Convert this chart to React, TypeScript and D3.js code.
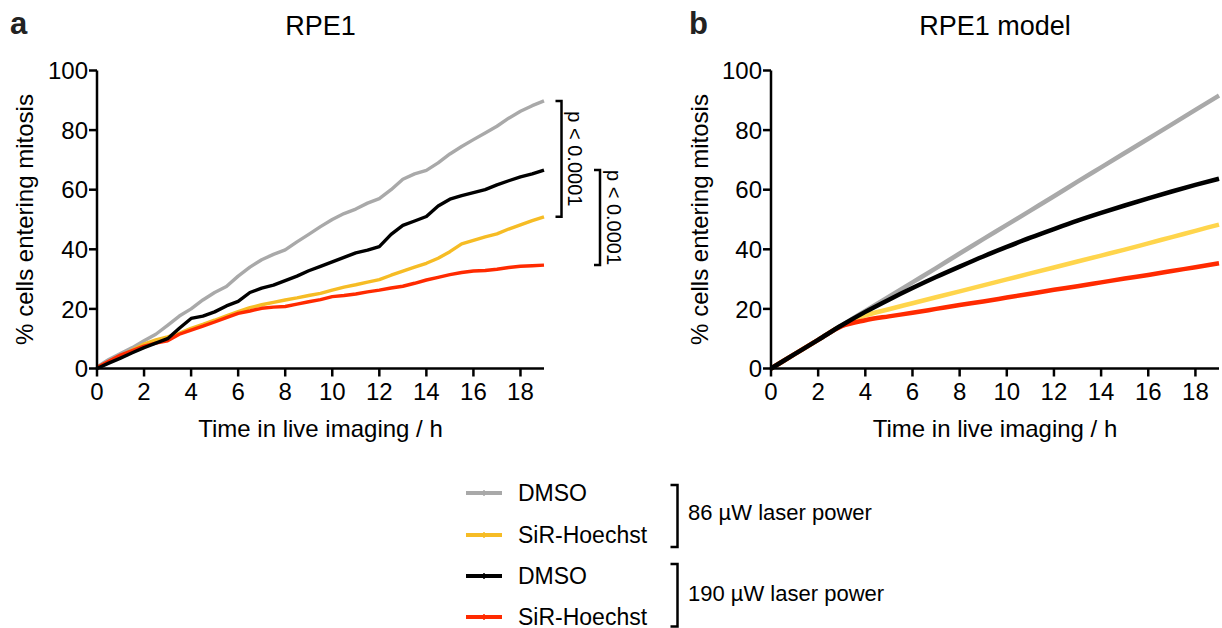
import React from 'react';
import * as d3 from 'd3';

// ---------- data ----------
const timeA = [0, 0.5, 1, 1.5, 2, 2.5, 3, 3.5, 4, 4.5, 5, 5.5, 6, 6.5, 7, 7.5, 8, 8.5, 9, 9.5, 10, 10.5, 11, 11.5, 12, 12.5, 13, 13.5, 14, 14.5, 15, 15.5, 16, 16.5, 17, 17.5, 18, 18.5, 19];
const dmso86A = [0.5, 3, 5, 7, 9.3, 11.5, 14.5, 17.6, 20, 23, 25.5, 27.5, 31, 34, 36.5, 38.3, 39.8, 42.5, 45, 47.6, 50, 52, 53.5, 55.5, 57, 60, 63.5, 65.3, 66.5, 69, 72, 74.5, 76.8, 79, 81.3, 84, 86.3, 88.2, 89.8];
const sir86A = [0.3, 2.3, 4.2, 6.2, 8.2, 9.6, 10.6, 11.8, 13.5, 14.8, 16.2, 17.7, 19.1, 20.4, 21.4, 22.2, 23, 23.7, 24.5, 25.2, 26.3, 27.3, 28.1, 29, 29.8, 31.3, 32.7, 34, 35.3, 37, 39.2, 41.8, 43, 44.2, 45.2, 46.8, 48.2, 49.6, 50.9];
const dmso190A = [0, 1.8, 3.5, 5.3, 7, 8.5, 10, 13.5, 16.8, 17.6, 19, 21, 22.5, 25.5, 27, 28, 29.5, 31, 32.8, 34.3, 35.8, 37.3, 38.8, 39.7, 40.9, 45, 48, 49.5, 51, 54.5, 56.8, 58, 59, 60, 61.6, 63, 64.3, 65.3, 66.6];
const sir190A = [0.3, 2.4, 4.5, 6, 7.5, 8.5, 9.3, 11.5, 12.9, 14.2, 15.6, 17.1, 18.5, 19.3, 20.2, 20.6, 20.8, 21.6, 22.4, 23.1, 24.1, 24.5, 25, 25.7, 26.3, 27, 27.6, 28.6, 29.7, 30.6, 31.5, 32.2, 32.7, 32.9, 33.3, 33.9, 34.3, 34.5, 34.7];

const timeB = [0, 1, 2, 3, 4, 5, 6, 7, 8, 9, 10, 11, 12, 13, 14, 15, 16, 17, 18, 19];
const dmso86B = [0, 4.8, 9.6, 14.5, 19.3, 24.1, 28.9, 33.7, 38.6, 43.4, 48.2, 53.0, 57.8, 62.7, 67.5, 72.3, 77.1, 81.9, 86.8, 91.6];
const sir86B = [0, 4.8, 9.6, 14.4, 17.8, 19.9, 21.9, 23.9, 25.9, 27.9, 29.9, 31.9, 33.9, 35.9, 37.9, 39.9, 42.0, 44.1, 46.2, 48.3];
const dmso190B = [0, 4.8, 9.6, 14.5, 19.0, 23.1, 27.0, 30.7, 34.2, 37.6, 40.8, 43.9, 46.8, 49.6, 52.2, 54.7, 57.1, 59.4, 61.6, 63.7];
const sir190B = [0, 4.8, 9.6, 14.2, 16.2, 17.5, 18.7, 20.0, 21.3, 22.5, 23.8, 25.1, 26.4, 27.6, 28.9, 30.2, 31.4, 32.7, 34.0, 35.3];

const xTicks = [0, 2, 4, 6, 8, 10, 12, 14, 16, 18];
const yTicks = [0, 20, 40, 60, 80, 100];

const legendLabels = ['DMSO', 'SiR-Hoechst', 'DMSO', 'SiR-Hoechst'];
const groupLabels = ['86 µW laser power', '190 µW laser power'];
const pLabels = ['p < 0.0001', 'p < 0.0001'];

// ---------- styles ----------
const FONT = '"Liberation Sans", Arial, Helvetica, sans-serif';
const GRAY = '#a9a9a9';
const YELLOW_A = '#f6bc25';
const YELLOW_B = '#ffd54c';
const RED = '#ff2a00';
const BLACK = '#000000';

type Series = { t: number[]; v: number[]; color: string };

function Panel(props: {
  x0: number; x1: number; yTop: number; yBot: number;
  series: Series[]; curve: any; sw: number;
  title: string; letter: string; letterX: number; ylabX: number;
}) {
  const { x0, x1, yTop, yBot, series, curve, sw, title, letter, letterX, ylabX } = props;
  const x = d3.scaleLinear().domain([0, 19]).range([x0, x1]);
  const y = d3.scaleLinear().domain([0, 100]).range([yBot, yTop]);
  const cx = (x0 + x1) / 2;
  return (
    <g>
      <text x={letterX} y={34} fontSize={31} fontWeight="bold" fontFamily={FONT} fill="#222">{letter}</text>
      <text x={cx} y={35} fontSize={27} textAnchor="middle" fontFamily={FONT}>{title}</text>
      {series.map((s, i) => {
        const line = d3.line<number>()
          .x((_, j) => x(s.t[j]))
          .y((d) => y(d))
          .curve(curve);
        return (
          <path key={i} d={line(s.v) || ''} fill="none" stroke={s.color}
            strokeWidth={sw} strokeLinejoin="round" strokeLinecap="butt" />
        );
      })}
      <line x1={x0} y1={yTop} x2={x0} y2={yBot} stroke="#000" strokeWidth={2.5} />
      <line x1={x0 - 1.25} y1={yBot} x2={x1} y2={yBot} stroke="#000" strokeWidth={2.5} />
      {yTicks.map((t) => (
        <g key={'y' + t}>
          <line x1={x0 - 8} x2={x0} y1={y(t)} y2={y(t)} stroke="#000" strokeWidth={2.5} />
          <text x={x0 - 9} y={y(t)} dy="0.36em" textAnchor="end" fontSize={24} fontFamily={FONT}>{t}</text>
        </g>
      ))}
      {xTicks.map((t) => (
        <g key={'x' + t}>
          <line x1={x(t)} x2={x(t)} y1={yBot} y2={yBot + 8} stroke="#000" strokeWidth={2.5} />
          <text x={x(t)} y={yBot + 31} textAnchor="middle" fontSize={24} fontFamily={FONT}>{t}</text>
        </g>
      ))}
      <text x={cx} y={yBot + 68} textAnchor="middle" fontSize={24} fontFamily={FONT}>Time in live imaging / h</text>
      <text transform={`translate(${ylabX},${(yTop + yBot) / 2}) rotate(-90)`} textAnchor="middle"
        fontSize={24} fontFamily={FONT}>% cells entering mitosis</text>
    </g>
  );
}

function Bracket(props: { x: number; y1: number; y2: number; dx: number; sw?: number }) {
  const { x, y1, y2, dx, sw = 2.5 } = props;
  return (
    <path d={`M${x - dx},${y1} H${x} V${y2} H${x - dx}`} fill="none" stroke="#000" strokeWidth={sw} />
  );
}

export default function App() {
  const seriesA: Series[] = [
    { t: timeA, v: dmso86A, color: GRAY },
    { t: timeA, v: sir86A, color: YELLOW_A },
    { t: timeA, v: sir190A, color: RED },
    { t: timeA, v: dmso190A, color: BLACK },
  ];
  const seriesB: Series[] = [
    { t: timeB, v: dmso86B, color: GRAY },
    { t: timeB, v: sir86B, color: YELLOW_B },
    { t: timeB, v: sir190B, color: RED },
    { t: timeB, v: dmso190B, color: BLACK },
  ];
  const legendColors = [GRAY, YELLOW_A, BLACK, RED];
  const legendY = [493, 535, 576, 617];
  const yA = d3.scaleLinear().domain([0, 100]).range([368.5, 70.5]);
  const endsA = [dmso86A, sir86A, dmso190A, sir190A].map((a) => a[a.length - 1]);

  return (
    <svg width={1222} height={628} style={{ position: 'absolute', left: 0, top: 0, background: '#fff' }}
      fontFamily={FONT}>
      <rect x={0} y={0} width={1222} height={628} fill="#fff" />
      <Panel x0={97} x1={544} yTop={70.5} yBot={368.5} series={seriesA} curve={d3.curveLinear} sw={3.4}
        title="RPE1" letter="a" letterX={10} ylabX={33} />
      <Panel x0={771} x1={1219} yTop={70.5} yBot={368.5} series={seriesB} curve={d3.curveMonotoneX} sw={4.5}
        title="RPE1 model" letter="b" letterX={689} ylabX={708} />

      {/* significance brackets */}
      <Bracket x={561.5} y1={yA(endsA[0]) + 0} y2={yA(endsA[1])} dx={6} />
      <text transform={`translate(568,${(yA(endsA[0]) + yA(endsA[1])) / 2}) rotate(90)`} textAnchor="middle"
        fontSize={20} fontFamily={FONT}>{pLabels[0]}</text>
      <Bracket x={600} y1={yA(endsA[2])} y2={yA(endsA[3])} dx={6} />
      <text transform={`translate(606.5,${(yA(endsA[2]) + yA(endsA[3])) / 2}) rotate(90)`} textAnchor="middle"
        fontSize={20} fontFamily={FONT}>{pLabels[1]}</text>

      {/* legend */}
      {legendLabels.map((lab, i) => (
        <g key={i}>
          <line x1={466} x2={502} y1={legendY[i]} y2={legendY[i]} stroke={legendColors[i]} strokeWidth={4} />
          <line x1={484} x2={484} y1={legendY[i] - 3} y2={legendY[i] + 3} stroke={legendColors[i]} strokeWidth={1.5} />
          <text x={518} y={legendY[i]} dy="0.36em" fontSize={23} fontFamily={FONT}>{lab}</text>
        </g>
      ))}
      <Bracket x={677.5} y1={485} y2={547} dx={7} />
      <text x={688} y={512} dy="0.36em" fontSize={22} fontFamily={FONT}>{groupLabels[0]}</text>
      <Bracket x={677.5} y1={564} y2={626.5} dx={7} />
      <text x={688} y={593} dy="0.36em" fontSize={22} fontFamily={FONT}>{groupLabels[1]}</text>
    </svg>
  );
}
